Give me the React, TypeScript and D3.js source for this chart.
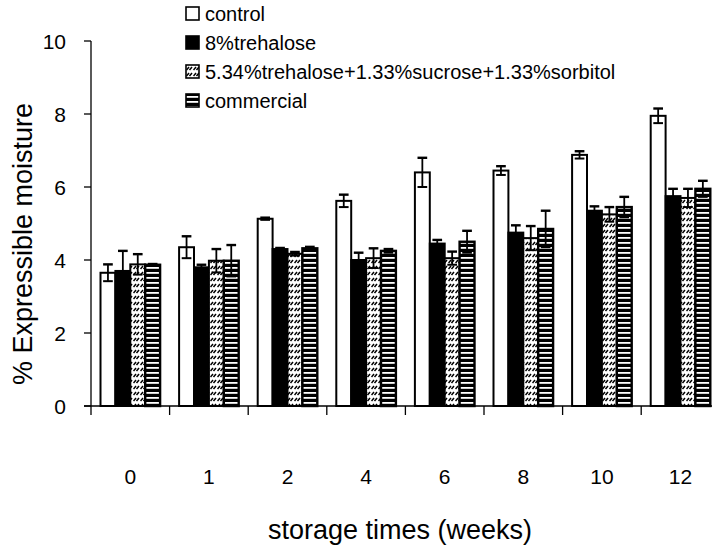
import React from "react";
import * as d3 from "d3";

// Storage time categories (weeks)
const weeks = ["0", "1", "2", "4", "6", "8", "10", "12"];

// Series names shown in the legend
const seriesNames = [
  "control",
  "8%trehalose",
  "5.34%trehalose+1.33%sucrose+1.33%sorbitol",
  "commercial",
];

// Mean % expressible moisture per series
const controlValues = [3.65, 4.35, 5.13, 5.62, 6.4, 6.45, 6.88, 7.95];
const trehaloseValues = [3.7, 3.8, 4.3, 4.0, 4.45, 4.75, 5.35, 5.75];
const mixValues = [3.88, 3.98, 4.17, 4.05, 4.05, 4.6, 5.25, 5.7];
const commercialValues = [3.87, 3.98, 4.32, 4.25, 4.5, 4.85, 5.45, 5.95];

// Error (± SD) per series
const controlErrors = [0.23, 0.3, 0.03, 0.17, 0.4, 0.12, 0.1, 0.2];
const trehaloseErrors = [0.55, 0.07, 0.03, 0.2, 0.1, 0.2, 0.12, 0.2];
const mixErrors = [0.28, 0.32, 0.05, 0.27, 0.18, 0.33, 0.2, 0.25];
const commercialErrors = [0.02, 0.43, 0.04, 0.05, 0.3, 0.5, 0.28, 0.22];

const yTicks = [0, 2, 4, 6, 8, 10];

const FONT = "'Liberation Sans', Arial, sans-serif";

const fills = ["#ffffff", "#000000", "url(#hatchMix)", "url(#stripeCom)"];

export default function App() {
  const width = 712;
  const height = 549;
  const left = 91;
  const bandW = 78.6;
  const top = 41;
  const bottom = 406;

  const x = d3
    .scaleBand<string>()
    .domain(weeks)
    .range([left, left + bandW * weeks.length])
    .paddingInner(0)
    .paddingOuter(0);

  const inner = d3
    .scaleBand<string>()
    .domain(seriesNames)
    .range([9.5, bandW - 9.5])
    .padding(0);

  const y = d3.scaleLinear().domain([0, 10]).range([bottom, top]);

  const values = [controlValues, trehaloseValues, mixValues, commercialValues];
  const errors = [controlErrors, trehaloseErrors, mixErrors, commercialErrors];

  const bw = inner.bandwidth();
  const capW = bw * 0.65;

  return (
    <svg
      width={width}
      height={height}
      style={{ position: "absolute", left: 0, top: 0, background: "#fff" }}
      fontFamily={FONT}
    >
      <defs>
        <pattern id="hatchMix" patternUnits="userSpaceOnUse" width="7" height="6">
          <rect width="7" height="6" fill="#fff" />
          <path d="M0.5,5 L3,2 M3.5,5 L6,2" stroke="#000" strokeWidth="1.5" />
        </pattern>
        <pattern id="stripeCom" patternUnits="userSpaceOnUse" width="6" height="5">
          <rect width="6" height="5" fill="#000" />
          <rect x="0" y="2" width="6" height="1.8" fill="#fff" />
        </pattern>
      </defs>

      {/* bars */}
      {seriesNames.map((s, si) =>
        weeks.map((w, wi) => {
          const v = values[si][wi];
          const bx = (x(w) as number) + (inner(s) as number);
          return (
            <rect
              key={`b-${si}-${wi}`}
              x={bx}
              y={y(v)}
              width={bw}
              height={bottom - y(v)}
              fill={fills[si]}
              stroke="#000"
              strokeWidth={si === 3 ? 2.4 : 2}
            />
          );
        })
      )}

      {/* error bars */}
      {seriesNames.map((s, si) =>
        weeks.map((w, wi) => {
          const v = values[si][wi];
          const e = errors[si][wi];
          const cx = (x(w) as number) + (inner(s) as number) + bw / 2;
          const hi = y(v + e);
          const lo = y(v - e);
          return (
            <g key={`e-${si}-${wi}`} stroke="#000">
              <line x1={cx} x2={cx} y1={hi} y2={lo} strokeWidth={1.8} />
              <line x1={cx - capW / 2} x2={cx + capW / 2} y1={hi} y2={hi} strokeWidth={2.4} />
              <line x1={cx - capW / 2} x2={cx + capW / 2} y1={lo} y2={lo} strokeWidth={2} />
            </g>
          );
        })
      )}

      {/* y axis */}
      <line x1={left} x2={left} y1={top} y2={bottom} stroke="#000" strokeWidth={1.3} />
      {yTicks.map((t) => (
        <g key={`yt-${t}`}>
          <line x1={left - 7} x2={left} y1={y(t)} y2={y(t)} stroke="#000" strokeWidth={1.3} />
          <text x={66} y={y(t)} dy="0.36em" textAnchor="end" fontSize={21}>
            {t}
          </text>
        </g>
      ))}

      {/* x axis */}
      <line
        x1={left - 7}
        x2={left + bandW * weeks.length}
        y1={bottom}
        y2={bottom}
        stroke="#000"
        strokeWidth={1.3}
      />
      {weeks.map((w) => (
        <g key={`xt-${w}`}>
          <line
            x1={x(w) as number}
            x2={x(w) as number}
            y1={bottom}
            y2={bottom + 9}
            stroke="#000"
            strokeWidth={1.3}
          />
          <text
            x={(x(w) as number) + bandW / 2}
            y={484}
            textAnchor="middle"
            fontSize={21}
          >
            {w}
          </text>
        </g>
      ))}

      {/* axis titles */}
      <text x={400} y={539} textAnchor="middle" fontSize={27}>
        storage times (weeks)
      </text>
      <text
        transform={`translate(32,244) rotate(-90)`}
        textAnchor="middle"
        fontSize={27}
      >
        % Expressible moisture
      </text>

      {/* legend */}
      {seriesNames.map((s, si) => (
        <g key={`lg-${si}`} transform={`translate(186,${7 + si * 29})`}>
          <rect
            x={0}
            y={0}
            width={13}
            height={13}
            fill={fills[si]}
            stroke="#000"
            strokeWidth={1.6}
          />
          <text x={19} y={14} fontSize={20}>
            {s}
          </text>
        </g>
      ))}
    </svg>
  );
}
